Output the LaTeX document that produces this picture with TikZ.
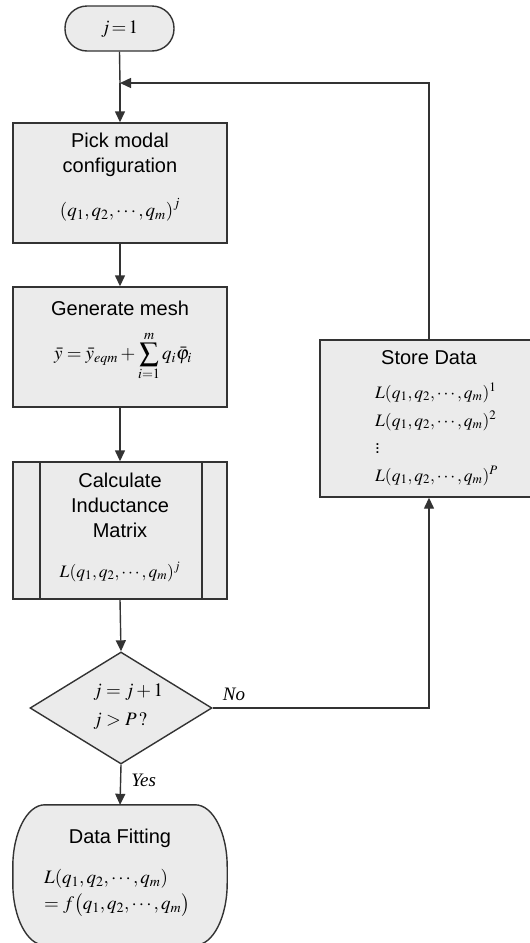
\documentclass[tikz,border=0pt]{standalone}
\usepackage{mathptmx}
\usepackage{fontspec}
\setmainfont{Liberation Sans}
\newfontfamily\serifit{Liberation Serif}
\usetikzlibrary{shapes.geometric,arrows.meta}
\definecolor{ln}{HTML}{333333}
\definecolor{bx}{HTML}{EBEBEB}
\tikzset{
  x=1pt,y=-1pt,
  box/.style={draw=ln,fill=bx,line width=1.4pt,rectangle,inner sep=0pt},
  lbl/.style={font=\fontsize{20}{24}\selectfont,inner sep=0pt},
  mth/.style={font=\fontsize{19}{23}\selectfont,inner sep=0pt},
  smth/.style={font=\fontsize{17.5}{21}\selectfont,inner sep=0pt},
  conn/.style={draw=ln,line width=1.4pt,-{Triangle[length=11pt,width=10pt]}},
  plain/.style={draw=ln,line width=1.4pt},
  yn/.style={font=\fontsize{19}{23}\selectfont\serifit\itshape,inner sep=0pt}
}
\begin{document}
\begin{tikzpicture}
\useasboundingbox (0,0) rectangle (530,943);
\clip (0,0) rectangle (530,943);
% shapes
\node[box,rounded corners=22pt,minimum width=109pt,minimum height=45pt] (start) at (119.5,28.5) {};
\node[mth] (starttxt) at (119.5,29) {$j\,{=}\,1$};
\coordinate (merge) at (120,83);

\node[box,minimum width=214pt,minimum height=120pt] (pick) at (120,183) {};
\node[lbl,align=center] (picktxt) at (120,155) {Pick modal\\[1pt]configuration};
\node[mth] (pickf) at (120,210) {$\left(q_1,q_2,\cdots,q_m\right)^{j}$};

\node[box,minimum width=214pt,minimum height=120pt] (mesh) at (120,347) {};
\node[lbl] (meshtxt) at (120,308) {Generate mesh};
\node[mth] (meshf) at (123,356) {$\displaystyle \bar{y}=\bar{y}_{eqm}+\sum_{i=1}^{m} q_i\bar{\varphi}_i$};

\node[box,minimum width=214pt,minimum height=137pt] (calc) at (120,530.5) {};
\draw[plain] (40,462) -- (40,599);
\draw[plain] (202,462) -- (202,599);
\node[lbl,align=center] (calctxt) at (120,505) {Calculate\\[1pt]Inductance\\[1pt]Matrix};
\node[smth] (calcf) at (120,572) {$L(q_1,q_2,\cdots,q_m)^{j}$};

\node[draw=ln,fill=bx,line width=1.4pt,diamond,aspect=1.625,minimum width=182pt,minimum height=112pt,inner sep=0pt] (dia) at (121,708) {};
\node[mth,align=left,anchor=west] (diatxt) at (93,707) {$j=j+1$\\[6pt]$j>P\,?$};

\node[minimum width=214pt,minimum height=140pt,inner sep=0pt] (fit) at (120,875) {};
\draw[draw=ln,fill=bx,line width=1.4pt]
  ([xshift=32pt]fit.north west) -- ([xshift=-32pt]fit.north east)
  arc[start angle=90,end angle=0,x radius=32pt,y radius=62pt]
  -- ([yshift=62pt]fit.south east)
  arc[start angle=0,end angle=-90,x radius=32pt,y radius=62pt]
  -- ([xshift=32pt]fit.south west)
  arc[start angle=-90,end angle=-180,x radius=32pt,y radius=62pt]
  -- ([yshift=-62pt]fit.north west)
  arc[start angle=180,end angle=90,x radius=32pt,y radius=62pt] -- cycle;
\node[lbl] (fittxt) at (120,838) {Data Fitting};
\node[mth,align=left,anchor=west] (fitf) at (44,893) {$L(q_1,q_2,\cdots,q_m)$\\[3pt]$=f\bigl(q_1,q_2,\cdots,q_m\bigr)$};

\node[box,minimum width=218pt,minimum height=157pt] (store) at (429,418.5) {};
\node[lbl] (storetxt) at (429,358) {Store Data};
\node[smth,anchor=west] (s1) at (375,393) {$L(q_1,q_2,\cdots,q_m)^{1}$};
\node[smth,anchor=west] (s2) at (375,421) {$L(q_1,q_2,\cdots,q_m)^{2}$};
\node[smth,anchor=west] (s3) at (375,446) {$\vdots$};
\node[smth,anchor=west] (s4) at (375,476) {$L(q_1,q_2,\cdots,q_m)^{P}$};

% connectors
\draw[plain] (start.south) -- (merge);
\draw[conn] (merge) -- (pick.north);
\draw[conn] (store.north) |- (merge);
\draw[conn] (pick.south) -- (mesh.north);
\draw[conn] (mesh.south) -- (calc.north);
\draw[conn] (calc.south) -- (dia.north);
\draw[conn] (dia.south) -- (fit.north) node[yn,pos=0.38,anchor=west,xshift=10pt] (yes) {Yes};
\draw[conn] (dia.east) -| (store.south);
\node[yn] (no) at (234,694) {No};
\end{tikzpicture}
\end{document}
